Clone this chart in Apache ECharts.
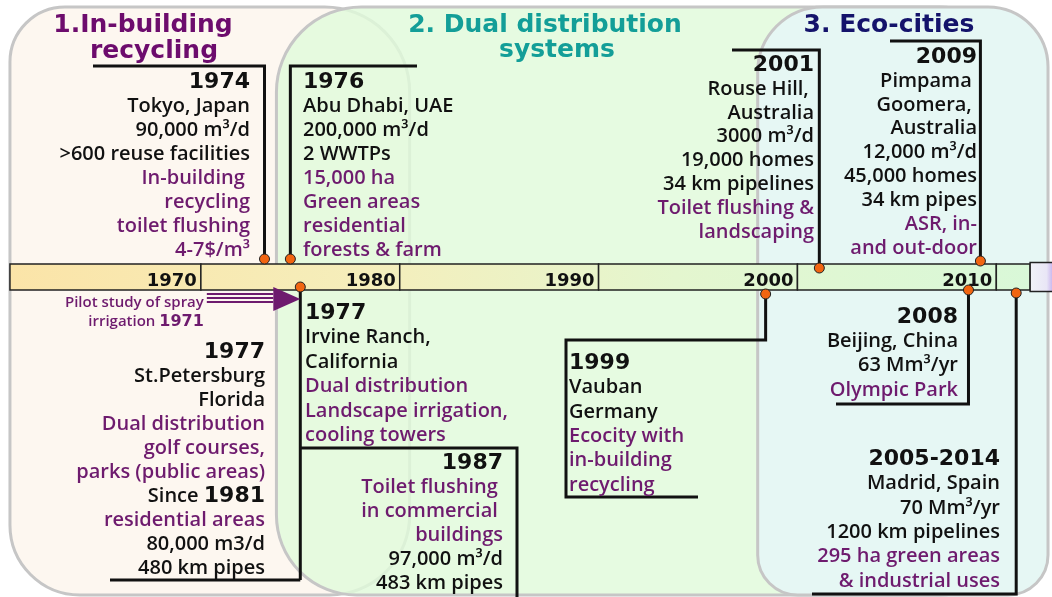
<!DOCTYPE html>
<html>
<head>
<meta charset="utf-8">
<title>Water reuse timeline</title>
<script src="https://cdn.jsdelivr.net/npm/echarts@6/dist/echarts.min.js"></script>
</head>
<body style="margin:0; background:#fff">
<div id="main" style="width:1052px;height:597px"></div>
<script>
// time bar: segment breaks on the year axis and decade labels
var barBreaks = [1960.4, 1970, 1980, 1990, 2000, 2010, 2011.7, 2013.2];
var decadeLabels = ['1970', '1980', '1990', '2000', '2010', '', ''];

// eras
var eraNames = [['1.In-building', 'recycling'], ['2. Dual distribution', 'systems'], ['3. Eco-cities']];
var eraSpans = [[1960.4, 1980.5], [1973.8, 2010.2], [1998.0, 2012.6]];

// events (pins = where the marker sits on the bar)
var eventYears = ['1974', '1976', '2001', '2009', '1977', '1977', '1987', '1999', '2008', '2005-2014'];
var eventPins = [1973.2, 1974.5, 2001.1, 2009.2, 1975.0, 1975.0, 1975.0, 1998.4, 2008.6, 2011.0];
var eventHasDot = [true, true, true, true, true, false, false, true, true, true];
var eventLines = [
  ['Tokyo, Japan', '90,000 m³/d', '>600 reuse facilities', '~In-building ', '~recycling', '~toilet flushing', '~4-7$/m³'],
  ['Abu Dhabi, UAE', '200,000 m³/d', '2 WWTPs', '~15,000 ha', '~Green areas', '~residential', '~forests & farm'],
  ['Rouse Hill, ', 'Australia', '3000 m³/d', '19,000 homes', '34 km pipelines', '~Toilet flushing &', '~landscaping'],
  ['Pimpama ', 'Goomera, ', 'Australia', '12,000 m³/d', '45,000 homes', '34 km pipes', '~ASR, in-', '~and out-door'],
  ['Irvine Ranch,', 'California', '~Dual distribution', '~Landscape irrigation,', '~cooling towers'],
  ['St.Petersburg', 'Florida', '~Dual distribution', '~golf courses,', '~parks (public areas)', 'Since |1981', '~residential areas', '80,000 m3/d', '480 km pipes'],
  ['~Toilet flushing ', '~in commercial ', '~buildings', '97,000 m³/d', '483 km pipes'],
  ['Vauban', 'Germany', '~Ecocity with', '~in-building', '~recycling'],
  ['Beijing, China', '63 Mm³/yr', '~Olympic Park'],
  ['Madrid, Spain', '70 Mm³/yr', '1200 km pipelines', '~295 ha green areas', '~& industrial uses']
];

// pilot study arrow
var pilotSpan = [1970.3, 1975.0];
var pilotLines = ['Pilot study of spray', 'irrigation |1971'];

// ---- layout (pixels) ----
var eraRadius = [[55, 85, 80, 70], [85, 60, 60, 80], [65, 60, 40, 40]];
var eraFill = ['#fdf7f0', 'rgba(224,250,219,0.82)', '#e6f7f4'];
var eraColor = ['#6d0c6d', '#139e98', '#14136b'];
var eraTitlePos = [[[143, 25], [154, 51]], [[545, 25], [557, 50]], [[889, 25]]];

var eventLayout = [
  {dotY: 259, path: [['pin', 259], ['pin', 66], [93, 66]], align: 'right', tx: 250, ty: 82, lh: 24},
  {dotY: 259, path: [['pin', 259], ['pin', 66], [417, 66]], align: 'left', tx: 303, ty: 82, lh: 24},
  {dotY: 268, path: [['pin', 268], ['pin', 50], [732, 50]], align: 'right', tx: 814, ty: 65, lh: 23.9},
  {dotY: 261, path: [['pin', 261], ['pin', 41], [890, 41]], align: 'right', tx: 977, ty: 57, lh: 23.9},
  {dotY: 287, path: [['pin', 287], ['pin', 580]], align: 'left', tx: 305, ty: 313, lh: 24.5},
  {dotY: 0, path: [['pin', 580], [110, 580]], align: 'right', tx: 265, ty: 352, lh: 24},
  {dotY: 0, path: [['pin', 448], [517, 448], [517, 600]], align: 'right', tx: 503, ty: 463, lh: 24},
  {dotY: 294, path: [['pin', 294], ['pin', 340], [566, 340], [566, 497], [698, 497]], align: 'left', tx: 569, ty: 363, lh: 24.4},
  {dotY: 290, path: [['pin', 290], ['pin', 404], [836, 404]], align: 'right', tx: 958, ty: 317, lh: 24.3},
  {dotY: 293, path: [['pin', 293], ['pin', 594], [812, 594]], align: 'right', tx: 1000, ty: 459, lh: 24.4}
];

var BODY = '"Open Sans"';
var HEAD = '"DejaVu Sans"';
var PURPLE = '#6e1b6e';
var INK = '#111';

function richFor(lh) {
  return {
    y: {fontFamily: HEAD, fontWeight: 'bold', fontSize: 22, fill: INK, lineHeight: lh},
    k: {fontFamily: BODY, fontWeight: 600, fontSize: 20, fill: INK, lineHeight: lh},
    p: {fontFamily: BODY, fontWeight: 600, fontSize: 20, fill: PURPLE, lineHeight: lh}
  };
}

function fmtLine(s) {
  if (s.charAt(0) === '~') return '{p|' + s.slice(1) + '}';
  if (s.indexOf('|') >= 0) {
    var parts = s.split('|');
    return '{k|' + parts[0] + '}{y|' + parts[1] + '}';
  }
  return '{k|' + s + '}';
}

var chart = echarts.init(document.getElementById('main'));

var option = {
  animation: false,
  grid: {left: 2, right: 0, top: 0, bottom: 0},
  xAxis: {type: 'value', min: 1960, max: 2012.8, show: false},
  yAxis: {type: 'value', min: 0, max: 597, inverse: true, show: false},
  series: [
    {
      // era panels
      type: 'custom',
      data: eraSpans.map(function (s) { return [s[0], s[1]]; }),
      renderItem: function (params, api) {
        var i = params.dataIndex;
        var a = api.coord([api.value(0), 7]);
        var b = api.coord([api.value(1), 595]);
        var children = [{
          type: 'rect',
          shape: {x: a[0], y: a[1], width: b[0] - a[0], height: b[1] - a[1], r: eraRadius[i]},
          style: {fill: eraFill[i], stroke: '#c6c6c6', lineWidth: 3}
        }];
        eraNames[i].forEach(function (t, j) {
          children.push({
            type: 'text',
            style: {
              x: eraTitlePos[i][j][0], y: eraTitlePos[i][j][1], text: t,
              fill: eraColor[i], fontFamily: HEAD, fontWeight: 'bold', fontSize: 25,
              align: 'center', verticalAlign: 'middle'
            }
          });
        });
        return {type: 'group', children: children};
      }
    },
    {
      // time bar
      type: 'custom',
      data: barBreaks.slice(1).map(function (b, i) { return [barBreaks[i], b]; }),
      renderItem: function (params, api) {
        var i = params.dataIndex;
        var a = api.coord([api.value(0), 264]);
        var b = api.coord([api.value(1), 290]);
        var last = i === barBreaks.length - 2;
        var fill = last
          ? new echarts.graphic.LinearGradient(0, 0, 1, 0, [
              {offset: 0, color: '#f1f3f8'}, {offset: 0.55, color: '#e9e6f6'}, {offset: 0.75, color: '#c7b3ee'}, {offset: 1, color: '#ffffff'}])
          : new echarts.graphic.LinearGradient(10, 0, 1032, 0, [
              {offset: 0, color: '#fbe4a8'}, {offset: 0.35, color: '#f5eebb'},
              {offset: 0.65, color: '#e4f6cf'}, {offset: 1, color: '#d9f8d8'}], true);
        var children = [{
          type: 'rect',
          shape: {x: a[0], y: last ? a[1] - 1.5 : a[1], width: b[0] - a[0], height: last ? b[1] - a[1] + 3 : b[1] - a[1]},
          style: {fill: fill, stroke: '#222', lineWidth: 1.5}
        }];
        if (decadeLabels[i]) {
          children.push({
            type: 'text',
            style: {
              x: b[0] - 4, y: b[1] + 0.5, text: decadeLabels[i], fill: INK,
              fontFamily: HEAD, fontWeight: 'bold', fontSize: 18, align: 'right', verticalAlign: 'bottom'
            }
          });
        }
        return {type: 'group', children: children};
      }
    },
    {
      // events
      type: 'custom',
      data: eventPins.map(function (p) { return [p, 0]; }),
      renderItem: function (params, api) {
        var i = params.dataIndex;
        var L = eventLayout[i];
        var pinX = api.coord([api.value(0), 0])[0];
        var pts = L.path.map(function (p) { return [p[0] === 'pin' ? pinX : p[0], p[1]]; });
        var text = ['{y|' + eventYears[i] + '}'].concat(eventLines[i].map(fmtLine)).join('\n');
        var children = [
          {type: 'polyline', shape: {points: pts}, style: {stroke: INK, lineWidth: 3, fill: null, lineJoin: 'miter'}},
          {type: 'text', style: {x: L.tx, y: L.ty - L.lh / 2, text: text, align: L.align, verticalAlign: 'top', rich: richFor(L.lh)}}
        ];
        if (eventHasDot[i]) {
          children.push({type: 'circle', shape: {cx: pinX, cy: L.dotY, r: 5}, style: {fill: '#f26511', stroke: '#222', lineWidth: 1}});
        }
        return {type: 'group', children: children};
      }
    },
    {
      // pilot study arrow
      type: 'custom',
      data: [pilotSpan],
      renderItem: function (params, api) {
        var t = api.coord([api.value(0), 298]);
        var h = api.coord([api.value(1), 298]);
        var headW = 27;
        var children = [];
        [-4, 0, 4].forEach(function (d) {
          children.push({type: 'line', shape: {x1: t[0], y1: t[1] + d, x2: h[0] - headW, y2: t[1] + d}, style: {stroke: '#6e1b6e', lineWidth: 1.8}});
        });
        children.push({type: 'polygon', shape: {points: [[h[0] - headW, t[1] - 11], [h[0] - headW, t[1] + 13], [h[0], t[1] + 1]]}, style: {fill: '#6e1b6e'}});
        var text = pilotLines.map(function (s) {
          if (s.indexOf('|') >= 0) {
            var parts = s.split('|');
            return '{a|' + parts[0] + '}{b|' + parts[1] + '}';
          }
          return '{a|' + s + '}';
        }).join('\n');
        children.push({
          type: 'text',
          style: {
            x: t[0] - 3, y: 293, text: text, align: 'right', verticalAlign: 'top',
            rich: {
              a: {fontFamily: BODY, fontWeight: 600, fontSize: 15, fill: PURPLE, lineHeight: 19},
              b: {fontFamily: HEAD, fontWeight: 'bold', fontSize: 16, fill: PURPLE, lineHeight: 19}
            }
          }
        });
        return {type: 'group', children: children};
      }
    }
  ]
};

chart.setOption(option);
</script>
</body>
</html>
